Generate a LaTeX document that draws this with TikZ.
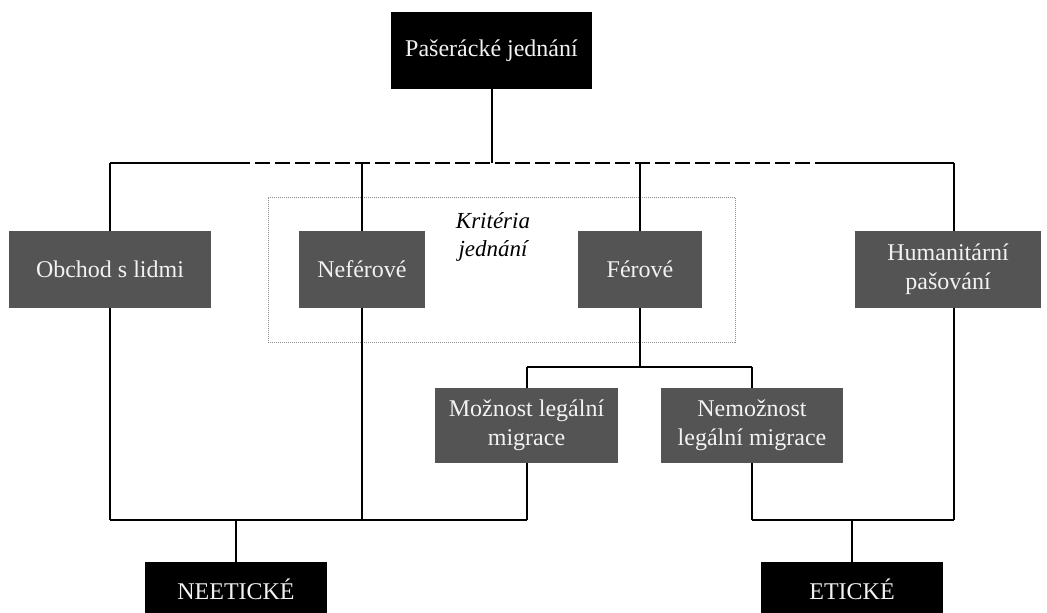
\documentclass[tikz,border=0pt]{standalone}
\usepackage{fontspec}
\setmainfont{Liberation Serif}
\definecolor{boxgray}{HTML}{545454}
\definecolor{txtwhite}{HTML}{F2F2F2}
\definecolor{dotgray}{HTML}{8C8C8C}
\begin{document}
\begin{tikzpicture}[x=1pt,y=-1pt,
  box/.style={fill=boxgray, text=txtwhite, inner sep=0pt, align=center,
    font=\fontsize{24}{29}\selectfont},
  blk/.style={box, fill=black},
  ln/.style={line width=2pt, black},
  dashln/.style={ln, dash pattern=on 15pt off 5pt},
  critbox/.style={draw=dotgray, line width=0.8pt, dash pattern=on 1pt off 1pt, inner sep=0pt},
  critlabel/.style={font=\fontsize{23}{28}\selectfont\itshape, align=center, inner sep=0pt}
]
\useasboundingbox (0,0) rectangle (1047,613);

% dotted criteria frame
\node[critbox, minimum width=467pt, minimum height=145pt] (crit) at (501.5,269.5) {};
\node[critlabel] (critl) at (493,237) {Kritéria\\jednání};

% nodes
\node[blk, minimum width=201pt, minimum height=77pt] (top) at (491.5,50.5) {Pašerácké jednání};
\node[box, minimum width=202pt, minimum height=77pt] (obchod) at (110,269.5) {Obchod s lidmi};
\node[box, minimum width=126pt, minimum height=77pt] (nefer) at (362,269.5) {Neférové};
\node[box, minimum width=124pt, minimum height=77pt] (fer) at (640,269.5) {Férové};
\node[box, minimum width=186pt, minimum height=77pt] (human) at (948,269.5) {Humanitární\\pašování};
\node[box, minimum width=183pt, minimum height=75pt] (mozn) at (526.5,425.5) {Možnost legální\\migrace};
\node[box, minimum width=182pt, minimum height=75pt] (nemozn) at (752,425.5) {Nemožnost\\legální migrace};
\node[blk, minimum width=182pt, minimum height=54pt] (neet) at (236,589) {NEETICKÉ};
\node[blk, minimum width=182pt, minimum height=54pt] (etic) at (852,589) {ETICKÉ};

% junction coordinates
\coordinate (barL) at (110,163);
\coordinate (barD1) at (235,163);
\coordinate (barD2) at (830,163);
\coordinate (barR) at (954,163);
\coordinate (barM) at (491.5,163);
\coordinate (ferJ) at (640,367);
\coordinate (moznJ) at (527,367);
\coordinate (nemoznJ) at (752,367);
\coordinate (botL) at (110,520);
\coordinate (botLM) at (362,520);
\coordinate (botLR) at (527,520);
\coordinate (botNeet) at (236,520);
\coordinate (botRL) at (752,520);
\coordinate (botRR) at (954,520);
\coordinate (botEtic) at (852,520);
\coordinate (humTop) at (954,231);
\coordinate (humBot) at (954,308);

% top connector and bar
\draw[ln] (top.south) -- (barM);
\draw[ln] (barL) -- (barD1);
\draw[dashln] (barD1) -- (barD2);
\draw[ln] (barD2) -- (barR);

% drops to second row
\draw[ln] (barL) -- (obchod.north);
\draw[ln] (nefer.north |- barL) -- (nefer.north);
\draw[ln] (fer.north |- barL) -- (fer.north);
\draw[ln] (barR) -- (humTop);

% Férové split
\draw[ln] (fer.south) -- (ferJ);
\draw[ln] (moznJ) -- (nemoznJ);
\draw[ln] (moznJ) -- (moznJ |- mozn.north);
\draw[ln] (nemoznJ) -- (nemozn.north);

% unethical branch
\draw[ln] (obchod.south) -- (botL);
\draw[ln] (nefer.south) -- (botLM);
\draw[ln] (moznJ |- mozn.south) -- (botLR);
\draw[ln] (botL) -- (botLR);
\draw[line width=1.6pt] (botNeet) -- (neet.north);

% ethical branch
\draw[ln] (humBot) -- (botRR);
\draw[ln] (nemozn.south) -- (botRL);
\draw[ln] (botRL) -- (botRR);
\draw[line width=1.6pt] (botEtic) -- (etic.north);
\end{tikzpicture}
\end{document}
